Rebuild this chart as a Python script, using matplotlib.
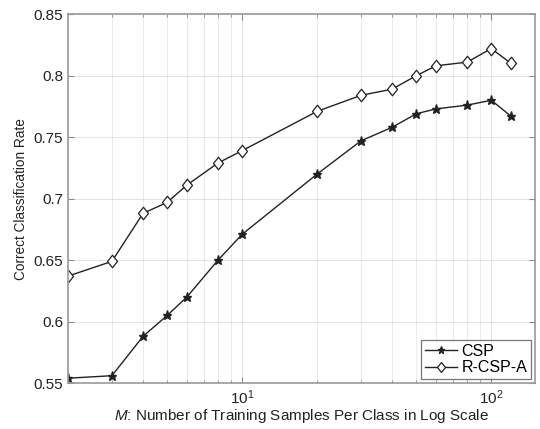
import numpy as np
import matplotlib
matplotlib.use("Agg")
import matplotlib.pyplot as plt
from matplotlib.ticker import LogLocator, NullFormatter
from matplotlib.path import Path

plt.rcParams['font.family'] = ['Liberation Sans', 'DejaVu Sans']
plt.rcParams['mathtext.fontset'] = 'custom'
plt.rcParams['mathtext.it'] = 'Liberation Sans:italic'
plt.rcParams['mathtext.rm'] = 'Liberation Sans'

# training samples per class
M = [2, 3, 4, 5, 6, 8, 10, 20, 30, 40, 50, 60, 80, 100, 120]
# correct classification rates
csp = [0.554, 0.556, 0.588, 0.605, 0.620, 0.650, 0.671, 0.720, 0.747,
       0.758, 0.769, 0.773, 0.776, 0.780, 0.767]
rcspa = [0.637, 0.649, 0.688, 0.697, 0.711, 0.729, 0.739, 0.771, 0.784,
         0.789, 0.800, 0.808, 0.811, 0.822, 0.810]
yticks = [0.55, 0.6, 0.65, 0.7, 0.75, 0.8, 0.85]
ytick_labels = ['0.55', '0.6', '0.65', '0.7', '0.75', '0.8', '0.85']

# diamond a bit wider than matplotlib's thin 'd'
diamond = Path([(0, 1), (0.8, 0), (0, -1), (-0.8, 0), (0, 1)],
               [Path.MOVETO, Path.LINETO, Path.LINETO, Path.LINETO, Path.CLOSEPOLY])

fig = plt.figure(figsize=(5.4, 4.29), dpi=100)
ax = fig.add_axes([0.126, 0.107, 0.865, 0.860])

ax.plot(M, csp, '-', marker='*', color='#222222', lw=1.0, ms=6.5,
        mfc='#222222', mec='#222222', label='CSP')
ax.plot(M, rcspa, '-', marker=diamond, color='#222222', lw=1.0, ms=9,
        mfc='white', mec='#222222', mew=0.9, label='R-CSP-A')

ax.set_xscale('log')
ax.set_xlim(2, 150)
ax.set_ylim(0.55, 0.85)
ax.set_yticks(yticks)
ax.set_yticklabels(ytick_labels)
ax.xaxis.set_minor_locator(LogLocator(base=10, subs=np.arange(2, 10)))
ax.xaxis.set_minor_formatter(NullFormatter())

ax.grid(True, which='major', color='#dddddd', lw=0.6)
ax.grid(True, which='minor', axis='x', color='#e6e6e6', lw=0.6)
ax.set_axisbelow(True)

ax.tick_params(which='both', direction='in', colors='#888888',
               labelcolor='#222222', labelsize=11, top=True, right=True)
ax.tick_params(which='major', length=4)
ax.tick_params(which='minor', length=2)
for s in ax.spines.values():
    s.set_color('#999999')
    s.set_linewidth(1.2)

ax.set_ylabel('Correct Classification Rate', fontsize=9.8, color='#222222',
              labelpad=4)
ax.set_xlabel('$\\mathit{M}$: Number of Training Samples Per Class in Log Scale',
              fontsize=11, color='#222222', labelpad=0)

leg = ax.legend(loc='lower right', fontsize=11.5, fancybox=False,
                edgecolor='#555555', handlelength=2.0, borderpad=0.25,
                labelspacing=0.1, handletextpad=0.3, borderaxespad=0.25,
                markerscale=0.8)
leg.get_frame().set_linewidth(0.9)

fig.savefig('out.png', dpi=100)
